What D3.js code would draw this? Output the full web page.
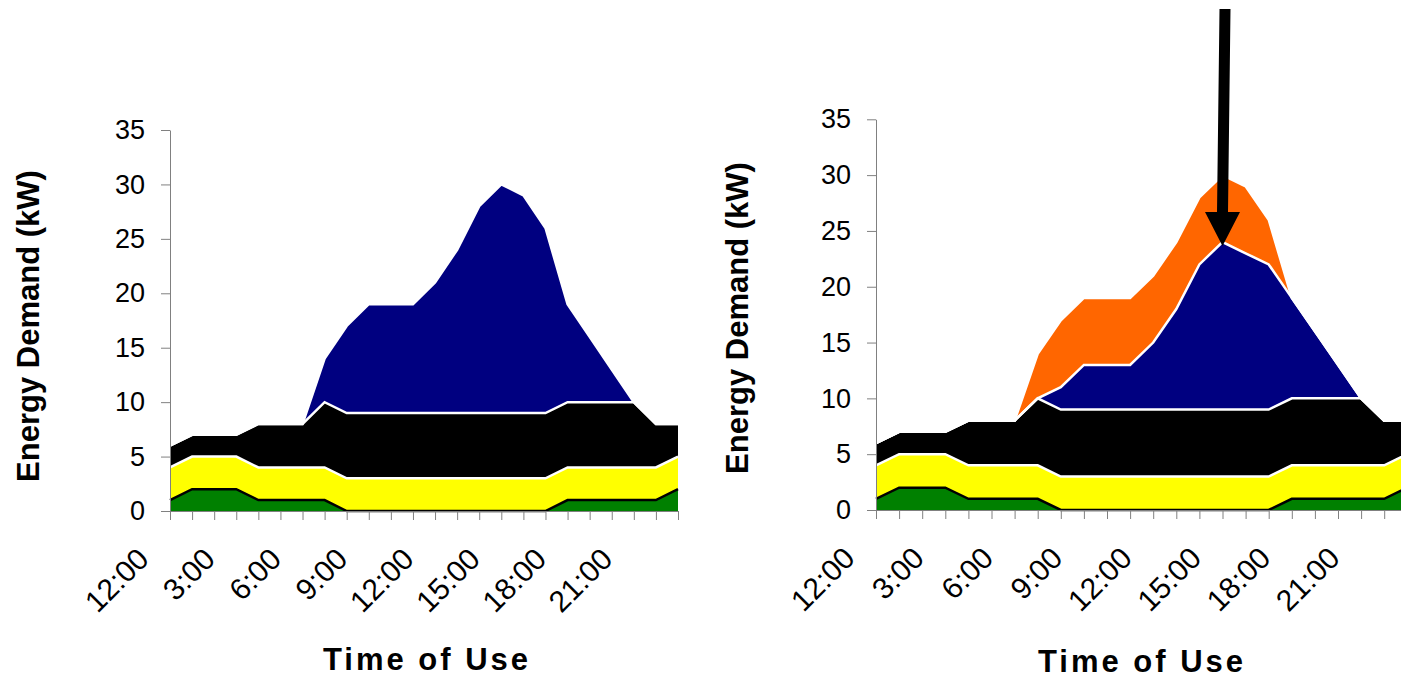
<html>
<head>
<style>
  body { margin: 0; background: #fff; }
  svg { display: block; }
  text { font-family: "Liberation Sans", Arial, sans-serif; fill: #000; }
</style>
</head>
<body>
<svg id="chart" width="1401" height="679"></svg>
<script src="https://d3js.org/d3.v7.min.js"></script>
<script>
// hours of the day, hour 0 shown as 12:00
var categories = ["12:00","1:00","2:00","3:00","4:00","5:00","6:00","7:00","8:00","9:00","10:00","11:00",
                  "12:00","13:00","14:00","15:00","16:00","17:00","18:00","19:00","20:00","21:00","22:00","23:00"];
var yTicks = [0, 5, 10, 15, 20, 25, 30, 35];

// kW per load, stacked bottom to top
var green  = [1,2,2,2,1,1,1,1,0,0,0,0,0,0,0,0,0,0,1,1,1,1,1,2];
var yellow = [3,3,3,3,3,3,3,3,3,3,3,3,3,3,3,3,3,3,3,3,3,3,3,3];
var black  = [2,2,2,2,4,4,4,6,6,6,6,6,6,6,6,6,6,6,6,6,6,6,4,3];
var navyBefore = [0,0,0,0,0,0,0,4,8,10,10,10,12,15,19,21,20,17,9,6,3,0,0,0];
var navyAfter  = [0,0,0,0,0,0,0,0,2,4,4,4,6,9,13,15,14,13,9,6,3,0,0,0];
var shifted    = [0,0,0,0,0,0,0,4,6,6,6,6,6,6,6,6,6,4,0,0,0,0,0,0];

var colors = { green: "#008000", yellow: "#ffff00", black: "#000000", navy: "#000080", orange: "#ff6600" };
var borders = { green: "#000000", yellow: "#ffffff", black: "#ffffff", navy: "#ffffff", orange: "#ffffff" };

var svg = d3.select("#chart");

function drawPanel(cfg) {
  var keys = Object.keys(cfg.series);
  var rows = categories.map(function(c, i) {
    var r = { i: i };
    keys.forEach(function(k) { r[k] = cfg.series[k][i]; });
    return r;
  });
  var stacked = d3.stack().keys(keys)(rows);

  var x = d3.scalePoint().domain(d3.range(categories.length)).range(cfg.xRange);
  var y = d3.scaleLinear().domain([0, 35]).range(cfg.yRange);

  var g = svg.append("g");

  var area = d3.area()
    .x(function(d) { return x(d.data.i); })
    .y0(function(d) { return y(d[0]); })
    .y1(function(d) { return y(d[1]); });
  var top = d3.line()
    .x(function(d) { return x(d.data.i); })
    .y(function(d) { return y(d[1]); });

  g.selectAll("path.area").data(stacked).enter().append("path")
    .attr("class", "area")
    .attr("d", area)
    .attr("fill", function(d) { return colors[d.key]; });

  g.selectAll("path.edge").data(stacked).enter().append("path")
    .attr("class", "edge")
    .attr("d", top)
    .attr("fill", "none")
    .attr("stroke", function(d) { return borders[d.key]; })
    .attr("stroke-width", 2.5);

  // y axis
  var ya = g.append("g")
    .attr("transform", "translate(" + cfg.xRange[0] + ",0)")
    .call(d3.axisLeft(y).tickValues(yTicks).tickSize(9).tickSizeOuter(0).tickPadding(16));
  ya.selectAll("path, line").attr("stroke", "#808080");
  ya.selectAll("text").style("font-size", "27px").attr("fill", "#000");

  // x axis
  var xa = g.append("g")
    .attr("transform", "translate(0," + cfg.yRange[0] + ")")
    .call(d3.axisBottom(x).tickSize(9).tickSizeOuter(0)
      .tickFormat(function(i) { return i % 3 === 0 ? categories[i] : ""; }));
  xa.selectAll("path, line").attr("stroke", "#808080");
  xa.selectAll("text")
    .style("font-size", "30px")
    .attr("fill", "#000")
    .attr("text-anchor", "end")
    .attr("y", null)
    .attr("dy", null)
    .attr("transform", "translate(-20,50) rotate(-45)");

  g.append("text")
    .attr("transform", "translate(" + cfg.yTitle[0] + "," + cfg.yTitle[1] + ") rotate(-90)")
    .attr("text-anchor", "middle")
    .style("font-size", "31px")
    .style("font-weight", "bold")
    .text("Energy Demand (kW)");

  g.append("text")
    .attr("x", cfg.xTitle[0])
    .attr("y", cfg.xTitle[1])
    .attr("text-anchor", "middle")
    .style("font-size", "31px")
    .style("font-weight", "bold")
    .style("letter-spacing", "3px")
    .text("Time of Use");

  return { x: x, y: y, stacked: stacked };
}

drawPanel({
  series: { green: green, yellow: yellow, black: black, navy: navyBefore },
  xRange: [170, 678], yRange: [511, 130],
  yTitle: [39, 326], xTitle: [427, 670]
});

var right = drawPanel({
  series: { green: green, yellow: yellow, black: black, navy: navyAfter, orange: shifted },
  xRange: [876, 1407.3], yRange: [510, 119.3],
  yTitle: [748, 318], xTitle: [1142, 672]
});

// arrow pointing at the reduced peak
var peak = 15;
var navyLayer = right.stacked[3];
var tx = right.x(peak), ty = right.y(navyLayer[peak][1]) + 4;
var arrow = [[tx - 3, 9], [tx + 8, 9], [tx + 5.5, ty - 34], [tx + 17.5, ty - 34], [tx, ty],
             [tx - 17.5, ty - 34], [tx - 5.5, ty - 34]];
svg.append("polygon")
  .attr("points", arrow.map(function(p) { return p.join(","); }).join(" "))
  .attr("fill", "#000");
</script>
</body>
</html>
